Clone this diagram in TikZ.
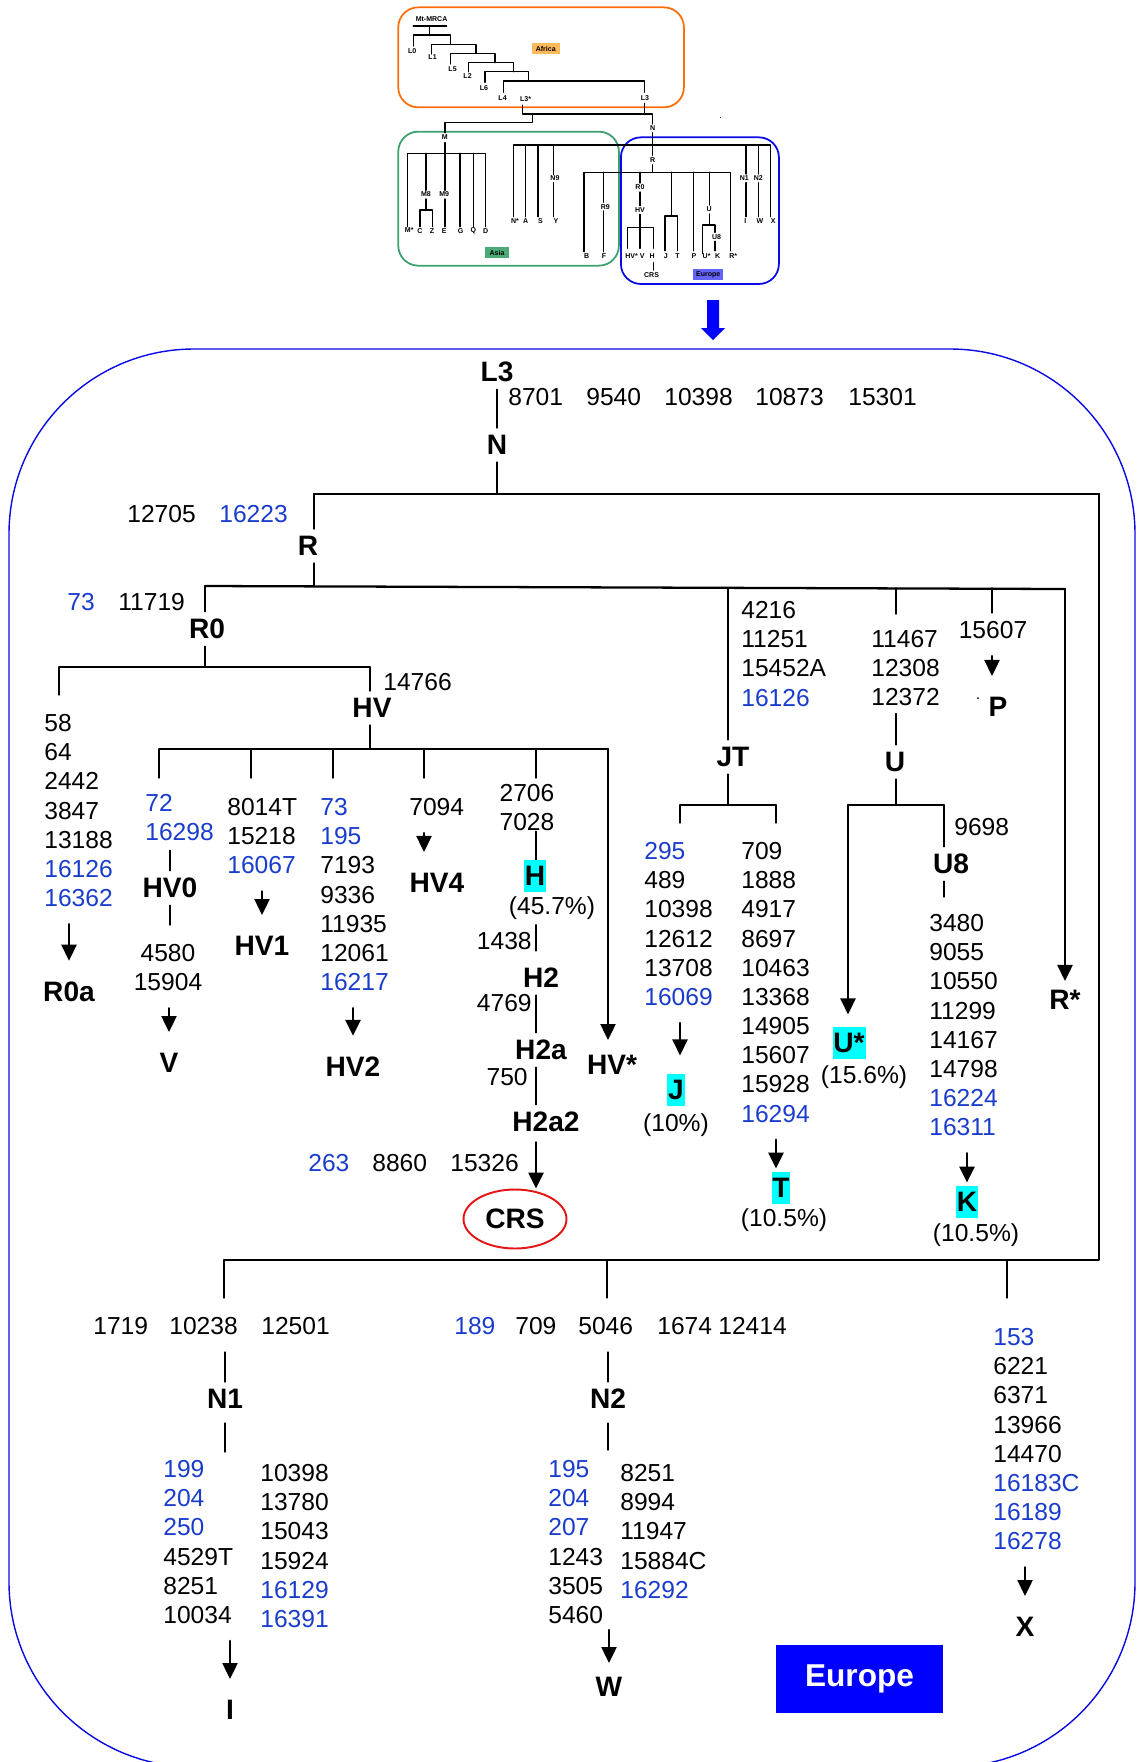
\documentclass[tikz,border=0pt]{standalone}
\usepackage{fontspec}
\setmainfont{Liberation Sans}
\usetikzlibrary{arrows.meta,shapes.geometric}
\definecolor{mutblue}{RGB}{25,60,205}
\definecolor{frameblue}{RGB}{10,10,230}
\definecolor{eublue}{RGB}{0,0,255}
\definecolor{hlcyan}{RGB}{0,255,255}
\definecolor{afrorange}{RGB}{255,110,10}
\definecolor{afrfill}{RGB}{253,185,90}
\definecolor{asiagreen}{RGB}{60,160,110}
\definecolor{asiafill}{RGB}{75,170,120}
\definecolor{eufill}{RGB}{100,100,250}
\definecolor{crsred}{RGB}{230,20,20}
\newcommand{\blu}[1]{\textcolor{mutblue}{#1}}
\begin{document}
\begin{tikzpicture}[
		x=0.02cm, y=-0.02cm,
		>={Triangle[width=0.3cm,length=0.32cm]},
		line cap=round,
		line join=round,
		tk/.style={line width=0.8pt},
		bar/.style={line width=1.3pt},
		arr/.style={->, line width=1.4pt, shorten <=0.34cm, shorten >=0.28cm},
		lbl/.style={font=\fontsize{16}{19}\selectfont\bfseries, inner xsep=1pt, inner ysep=0.14cm},
		hl/.style={lbl, fill=hlcyan, inner xsep=0.5pt, inner ysep=0.128cm},
		mut/.style={font=\fontsize{14}{16.6}\selectfont, inner sep=0pt, anchor=west},
		muts/.style={font=\fontsize{14}{16.6}\selectfont, inner sep=0pt, align=left, anchor=north west},
		pct/.style={font=\fontsize{14}{16.6}\selectfont, inner sep=0pt},
		tl/.style={font=\fontsize{4}{5}\selectfont\bfseries, inner sep=0.3pt},
		tag/.style={font=\fontsize{4}{5}\selectfont\bfseries, inner sep=0pt}
		]
		\useasboundingbox (0,0) rectangle (1138,1762);
		\draw[frameblue, line width=0.8pt, rounded corners=3.7cm] (9,349) rectangle (1135,1767);
		% overview tree
		\begin{scope}[xshift=7.6cm, x=0.0066667cm, y=-0.0066667cm, line width=0.8pt]
		\draw[afrorange, line width=1pt, rounded corners=0.4cm] (55,22) rectangle (912,322);
		\draw[asiagreen, line width=1pt, rounded corners=0.4cm] (55,395) rectangle (717,797);
		\draw[frameblue, line width=1pt, rounded corners=0.4cm] (723,412) rectangle (1197,852);
		\node[tag, fill=afrfill, minimum width=0.567cm, minimum height=0.233cm] (tafr) at (497.5,145.5) {Africa};
		\node[tag, fill=asiafill, minimum width=0.487cm, minimum height=0.233cm] (tasia) at (351.5,757.5) {Asia};
		\node[tag, fill=eufill, minimum width=0.6cm, minimum height=0.213cm] (teu) at (985,824) {Europe};
		\draw (100,78) -- (200,78) (148,78) -- (148,105);
		\draw (100,138) |- (212,105) -- (212,133);
		\draw (155,162) |- (288,133) -- (288,160);
		\draw (212,192) |- (345,160) -- (345,188);
		\draw (265,215) |- (400,188) -- (400,215);
		\draw (315,247) |- (445,215) -- (445,243);
		\draw (370,277) |- (793,243) -- (793,277);
		\draw (427,316) |- (818,342) -- (818,372);
		\draw (793,310) -- (793,342);
		\draw (457,342) |- (195,368) -- (195,398);
		\draw (818,398) -- (818,466);
		\draw (400,650) |- (1172,435) -- (1172,650);
		\draw (437,435) -- (437,650) (474,435) -- (474,650);
		\draw (520,435) -- (520,524) (520,548) -- (520,650);
		\draw (1098,435) -- (1098,522) (1098,548) -- (1098,650);
		\draw (1135,435) -- (1135,522) (1135,548) -- (1135,650);
		\draw (818,494) -- (818,517);
		\draw (612,755) |- (1052,517) -- (1052,752);
		\draw (670,517) -- (670,607) (670,633) -- (670,755);
		\draw (780,517) -- (780,549) (780,576) -- (780,617) (780,643) -- (780,683);
		\draw (743,745) |- (820,683) -- (820,745) (780,683) -- (780,745);
		\draw (820,788) -- (820,810);
		\draw (875,517) -- (875,648);
		\draw (855,752) |- (893,648) -- (893,752);
		\draw (940,517) -- (940,752);
		\draw (988,517) -- (988,615) (988,642) -- (988,675);
		\draw (968,760) |- (1005,675) -- (1005,697) (1005,724) -- (1005,752);
		\draw (195,428) -- (195,460);
		\draw (82,680) |- (317,460) -- (317,680);
		\draw (138,460) -- (138,571) (138,597) -- (138,630);
		\draw (120,680) |- (158,630) -- (158,680);
		\draw (195,460) -- (195,571) (195,597) -- (195,680);
		\draw (240,460) -- (240,680) (280,460) -- (280,680);
		\foreach \n/\t/\x/\y in {mrca/Mt-MRCA/155/58, L0/L0/97/152, L1/L1/158/172, L5/L5/218/208,
			L2/L2/263/228, L6/L6/312/265, L4/L4/368/293, L3/L3/795/293, L3s/L3*/437/298,
			M/M/195/412, N/N/818/385, R/R/818/480, Ns/N*/405/663, A/A/437/663, S/S/482/663,
			N9/N9/525/535, Y/Y/528/663, N1/N1/1093/535, I/I/1096/663, N2/N2/1135/535,
			W/W/1140/663, X/X/1180/663, B/B/620/768, R9/R9/676/620, F/F/672/768,
			R0/R0/780/562, HV/HV/780/630, HVs/HV*/755/768, V/V/787/768, H/H/817/768,
			CRS/CRS/815/825, J/J/858/768, T/T/893/768, P/P/942/768, U/U/988/628,
			Us/U*/980/768, U8/U8/1010/710, K/K/1013/768, Rs/R*/1060/768, Ms/M*/88/690,
			M8/M8/138/583, M9/M9/193/583, C/C/120/693, Z/Z/156/693, E/E/193/693,
			G/G/242/693, Q/Q/280/693, D/D/317/693}
			\node[tl] (t\n) at (\x,\y) {\t};
		\fill (1022,352) circle (1.5);
		\end{scope}
		\fill[eublue] (707,300) rectangle (719,328) (701,328) -- (725,328) -- (713,340) -- cycle;
		% L3 -> N -> R
		\node[lbl] (L3) at (497,372) {L3};
		\foreach \x/\m in {508/8701,586/9540,664/10398,755/10873,848/15301}
			\node[mut] (l3-\m) at (\x,397) {\m};
		\node[lbl] (N) at (497,445) {N};
		\draw[tk] (L3) -- (N);
		\coordinate (nL) at (314,494);
		\coordinate (nR) at (1099,494);
		\draw[tk] (N) -- (N |- nL);
		\draw[bar] (nL) -- (nR);
		\node[mut] (r-12705) at (127,514) {12705};
		\node[mut] (r-16223) at (219,514) {\blu{16223}};
		\node[lbl] (R) at (308,546) {R};
		\draw[tk] (nL) -- (nL |- R.north);
		\coordinate (rL) at (205,586);
		\coordinate (rR) at (1065,589);
		\draw[tk] (R.south -| nL) -- (nL |- rL);
		\draw[bar] (rL) -- (rR);
		% R0 and HV
		\node[mut] (r0-73) at (67,602) {\blu{73}};
		\node[mut] (r0-11719) at (118,602) {11719};
		\node[lbl] (R0) at (207,629) {R0};
		\draw[tk] (rL) -- (rL |- R0.north);
		\coordinate (r0L) at (59,667);
		\coordinate (r0R) at (370,667);
		\draw[tk] (R0.south -| rL) -- (rL |- r0L);
		\draw[tk] (r0L) -- (r0R);
		\node[muts] (r0a) at (44,714) {58\\64\\2442\\3847\\13188\\\blu{16126}\\\blu{16362}};
		\draw[tk, shorten >=0.38cm] (r0L) -- (r0L |- r0a.north);
		\node[lbl] (R0a) at (69,992) {R0a};
		\draw[arr] (r0a.south -| R0a) -- (R0a.north);
		\node[mut] (hv-14766) at (383,682) {14766};
		\node[lbl] (HV) at (372,708) {HV};
		\draw[tk] (r0R) -- (r0R |- HV.north);
		\coordinate (hvL) at (159,749);
		\coordinate (hvR) at (608,749);
		\draw[tk] (HV.south -| r0R) -- (r0R |- hvL);
		\draw[tk] (hvL) -- (hvR);
		\coordinate (hv0x) at (159,749);
		\coordinate (hv1x) at (251,749);
		\coordinate (hv2x) at (333,749);
		\coordinate (hv4x) at (424,749);
		\coordinate (hx) at (536,749);
		\foreach \c in {hv0x,hv1x,hv2x,hv4x,hx}
			\draw[tk] (\c) -- ++(0,29);
		% HV0 / V
		\node[muts] (hv0a) at (145,794) {\blu{72}\\\blu{16298}};
		\node[lbl] (HV0) at (170,888) {HV0};
		\draw[tk, shorten <=0.18cm] (hv0a.south -| HV0) -- (HV0.north);
		\node[muts, align=center, anchor=north] (hv0b) at (168,944) {4580\\15904};
		\draw[tk, shorten >=0.38cm] (HV0.south) -- (HV0.south |- hv0b.north);
		\node[lbl] (V) at (169,1063) {V};
		\draw[arr] (hv0b.south -| V) -- (V.north);
		% HV1, HV2, HV4
		\node[muts] (hv1a) at (227,798) {8014T\\15218\\\blu{16067}};
		\node[lbl] (HV1) at (262,946) {HV1};
		\draw[arr] (hv1a.south -| HV1) -- (HV1.north);
		\node[muts] (hv2a) at (320,798) {\blu{73}\\\blu{195}\\7193\\9336\\11935\\12061\\\blu{16217}};
		\node[lbl] (HV2) at (353,1067) {HV2};
		\draw[arr] (hv2a.south -| HV2) -- (HV2.north);
		\node[mut] (hv4a) at (409,807) {7094};
		\node[lbl] (HV4) at (437,883) {HV4};
		\draw[arr] (hv4a.south -| hv4x) -- (hv4x |- HV4.north);
		% H down to CRS
		\node[muts, align=center, anchor=north] (ha) at (527,784) {2706\\7028};
		\node[hl] (H) at (535,876) {H};
		\draw[tk] (ha.south -| hx) -- (H.north -| hx);
		\node[pct] (hp) at (552,908) {(45.7\%)};
		\node[lbl] (H2) at (541,978) {H2};
		\draw[tk, shorten <=0.1cm, shorten >=0.2cm] (hp.south -| hx) -- (hx |- H2.north);
		\node[mut, anchor=east] (h2-1438) at (532,941) {1438};
		\node[lbl] (H2a) at (541,1050) {H2a};
		\draw[tk] (H2.south -| hx) -- (H2a.north -| hx);
		\node[mut, anchor=east] (h2a-4769) at (532,1003) {4769};
		\node[lbl] (H2a2) at (546,1122) {H2a2};
		\draw[tk] (H2a.south -| hx) -- (H2a2.north -| hx);
		\node[mut, anchor=east] (h2a2-750) at (528,1077) {750};
		\node[mut] (crs-263) at (308,1163) {\blu{263}};
		\node[mut] (crs-8860) at (372,1163) {8860};
		\node[mut] (crs-15326) at (450,1163) {15326};
		\node[lbl, ellipse, draw=crsred, line width=1.1pt, inner sep=0pt, minimum width=2.06cm, minimum height=1.18cm] (CRS) at (515,1219) {CRS};
		\draw[arr, shorten <=0.06cm, shorten >=0pt] (H2a2.south -| hx) -- (hx |- CRS.north);
		\node[lbl] (HVs) at (612,1065) {HV*};
		\draw[arr, shorten <=0pt, shorten >=0.16cm] (hvR) -- (hvR |- HVs.north);
		% JT
		\coordinate (jtx) at (728,588);
		\node[muts] (jtm) at (741,601) {4216\\11251\\15452A\\\blu{16126}};
		\node[lbl] (JT) at (733,757) {JT};
		\draw[tk] (jtx) -- (jtx |- JT.north);
		\coordinate (jL) at (680,805);
		\coordinate (jR) at (776,805);
		\draw[tk] (JT.south -| jtx) -- (jtx |- jL);
		\draw[tk] (jL) -- (jR);
		\draw[tk] (jL) -- ++(0,18) (jR) -- ++(0,18);
		\node[muts] (jm) at (644,842) {\blu{295}\\489\\10398\\12612\\13708\\\blu{16069}};
		\node[hl] (J) at (676,1090) {J};
		\draw[arr, shorten >=0.36cm] (jm.south -| jL) -- (jL |- J.north);
		\node[pct] (jp) at (676,1125) {(10\%)};
		\node[muts] (tm) at (741,842) {709\\1888\\4917\\8697\\10463\\13368\\14905\\15607\\15928\\\blu{16294}};
		\node[hl] (T) at (781,1188) {T};
		\draw[arr, shorten >=0.06cm] (tm.south -| jR) -- (jR |- T.north);
		\node[pct] (tp) at (784,1220) {(10.5\%)};
		% U
		\coordinate (ux) at (896,588);
		\node[muts] (um) at (871,630) {11467\\12308\\12372};
		\draw[tk, shorten >=0.32cm] (ux) -- (ux |- um.north);
		\node[lbl] (U) at (895,762) {U};
		\draw[tk, shorten <=0.14cm] (um.south -| ux) -- (ux |- U.north);
		\coordinate (uL) at (848,805);
		\coordinate (uR) at (944,805);
		\draw[tk] (U.south -| ux) -- (ux |- uL);
		\draw[tk] (uL) -- (uR);
		\node[hl] (Us) at (849,1043) {U*};
		\draw[arr, shorten <=0pt, shorten >=0.24cm] (uL) -- (uL |- Us.north);
		\node[pct] (usp) at (864,1077) {(15.6\%)};
		\node[mut] (u8-9698) at (954,827) {9698};
		\node[lbl] (U8) at (951,864) {U8};
		\draw[tk] (uR) -- (uR |- U8.north);
		\node[muts] (km) at (929,914) {3480\\9055\\10550\\11299\\14167\\14798\\\blu{16224}\\\blu{16311}};
		\draw[tk, shorten >=0.34cm] (U8.south -| uR) -- (uR |- km.north);
		\node[hl] (K) at (967,1202) {K};
		\draw[arr, shorten >=0.06cm] (km.south -| K) -- (K.north);
		\node[pct] (kp) at (976,1235) {(10.5\%)};
		% P and R*
		\coordinate (px) at (992,588);
		\node[mut, anchor=center] (pm) at (993,630) {15607};
		\draw[tk, shorten >=0.16cm] (px) -- (px |- pm.north);
		\node[lbl] (P) at (998,707) {P};
		\draw[arr] (pm.south -| px) -- (px |- P.north);
		\fill (978,698) circle (1);
		\node[lbl] (Rs) at (1065,1000) {R*};
		\draw[arr, shorten <=0pt, shorten >=0.04cm] (rR) -- (rR |- Rs.north);
		% N1, N2, X
		\coordinate (bL) at (224,1260);
		\coordinate (bR) at (1099,1260);
		\coordinate (n2x) at (607,1260);
		\coordinate (xx) at (1007,1260);
		\draw[bar] (nR) -- (bR) -- (bL);
		\foreach \x/\m in {93/1719,169/10238,261/12501}
			\node[mut] (n1-\m) at (\x,1326) {\m};
		\draw[tk, shorten >=0.38cm] (bL) -- (bL |- n1-10238.north);
		\node[lbl] (N1) at (225,1399) {N1};
		\draw[tk, shorten <=0.34cm] (n1-10238.south -| N1) -- (N1.north);
		\node[muts] (n1a) at (163,1460) {\blu{199}\\\blu{204}\\\blu{250}\\4529T\\8251\\10034};
		\node[muts] (n1b) at (260,1464) {10398\\13780\\15043\\15924\\\blu{16129}\\\blu{16391}};
		\draw[tk, shorten <=0.14cm, shorten >=0.16cm] (N1.south) -- (N1.south |- n1a.north);
		\node[lbl] (I) at (230,1710) {I};
		\draw[arr] (n1a.south -| I) -- (I.north);
		\node[mut] (n2-189) at (454,1326) {\blu{189}};
		\foreach \x/\m in {515/709,578/5046,657/1674,718/12414}
			\node[mut] (n2-\m) at (\x,1326) {\m};
		\draw[tk, shorten >=0.38cm] (n2x) -- (n2x |- n2-5046.north);
		\node[lbl] (N2) at (608,1399) {N2};
		\draw[tk, shorten <=0.34cm] (n2-5046.south -| N2) -- (N2.north);
		\node[muts] (n2a) at (548,1460) {\blu{195}\\\blu{204}\\\blu{207}\\1243\\3505\\5460};
		\node[muts] (n2b) at (620,1464) {8251\\8994\\11947\\15884C\\\blu{16292}};
		\draw[tk, shorten <=0.14cm, shorten >=0.2cm] (N2.south) -- (N2.south |- n2a.north);
		\node[lbl] (W) at (609,1687) {W};
		\draw[arr, shorten <=0.12cm, shorten >=0.14cm] (n2a.south -| W) -- (W.north);
		\node[muts] (xm) at (993,1328) {\blu{153}\\6221\\6371\\13966\\14470\\\blu{16183C}\\\blu{16189}\\\blu{16278}};
		\draw[tk, shorten >=0.6cm] (xx) -- (xx |- xm.north);
		\node[lbl] (X) at (1025,1627) {X};
		\draw[arr] (xm.south -| X) -- (X.north);
		\node[fill=eublue, text=white, font=\fontsize{18}{21}\selectfont\bfseries, inner sep=0pt, minimum width=3.34cm, minimum height=1.36cm] (eu) at (859.5,1679) {Europe};
		\end{tikzpicture}
\end{document}
